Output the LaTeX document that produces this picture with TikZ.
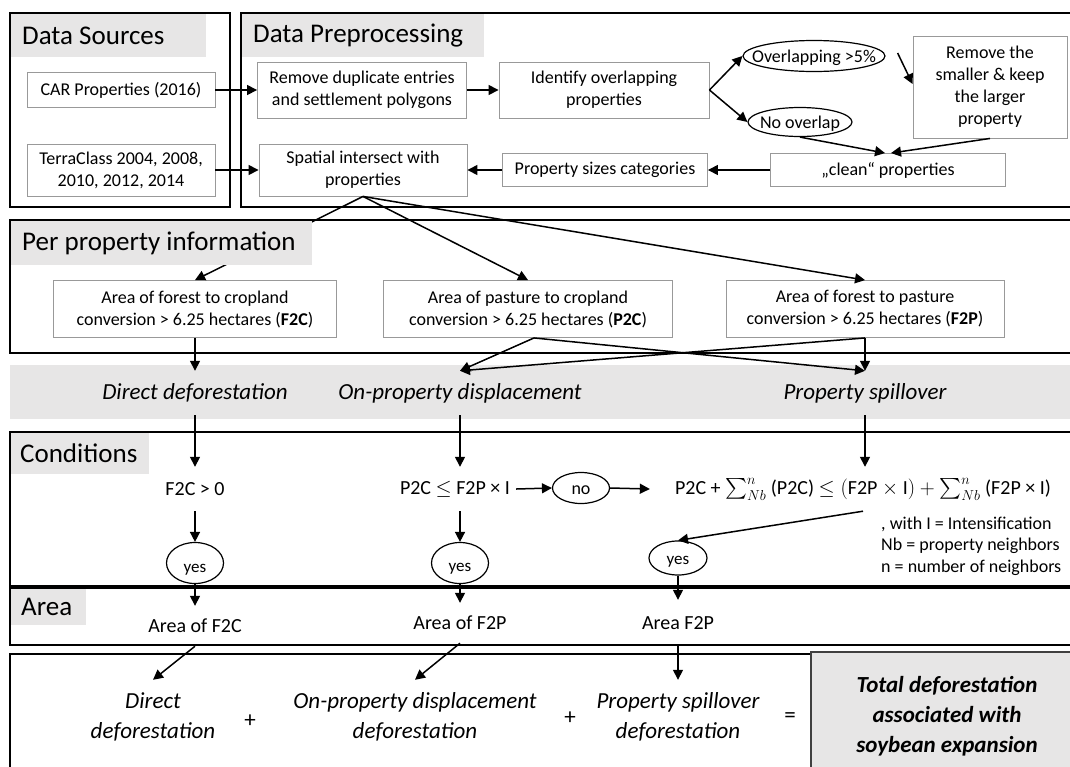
\documentclass[tikz,border=0pt]{standalone}
\usepackage{amsmath}
\usepackage{fontspec}
\setmainfont{Carlito}
\usetikzlibrary{shapes.geometric,arrows.meta}
\definecolor{hdrgray}{RGB}{231,230,230}
\newcommand{\ovtxt}[2][-0.34em]{\makebox[0pt][c]{\raisebox{#1}[0pt][0pt]{#2}}}
\begin{document}
\begin{tikzpicture}[x=1pt,y=-1pt,
  frame/.style={draw=black, line width=1.6pt},
  box/.style={draw=black!40, line width=0.9pt, fill=white, align=center, inner sep=0pt, font=\fontsize{18}{22}\selectfont},
  oval/.style={ellipse, draw=black, line width=1.2pt, fill=white, inner sep=0pt, font=\fontsize{18}{22}\selectfont},
  arr/.style={line width=1.5pt, -{Triangle[length=10pt,width=10pt]}},
  ttl/.style={anchor=west, font=\fontsize{27}{30}\selectfont, inner sep=0pt},
  lbl/.style={font=\fontsize{23}{30}\selectfont\itshape, align=center, inner sep=0pt},
  cond/.style={font=\fontsize{20}{24}\selectfont, inner sep=0pt},
  plain/.style={font=\fontsize{23}{30}\selectfont, inner sep=0pt}]
\useasboundingbox (0,0) rectangle (1070,766);
\clip (0,0) rectangle (1070,766);
\fill[white] (0,0) rectangle (1070,766);

% gray band
\fill[hdrgray] (10,365) rectangle (1080,419);

% frames
\draw[frame] (10,13) rectangle (230,207);
\draw[frame] (241,13) rectangle (1080,207);
\draw[frame] (10,220) rectangle (1080,353);
\draw[frame] (10,432) rectangle (1080,586);
\draw[frame] (10,588) rectangle (1080,645);
\draw[frame] (10,654) rectangle (1080,790);
\path[draw=black!75, line width=1.6pt, fill=hdrgray] (811,652) rectangle (1080,790);

% data sources / preprocessing
\node[box, minimum width=188, minimum height=35] (car) at (121,90) {CAR Properties (2016)};
\node[box, minimum width=188, minimum height=52] (tc) at (121,170) {TerraClass 2004, 2008,\\2010, 2012, 2014};
\node[box, minimum width=209, minimum height=56] (rd) at (362,90) {Remove duplicate entries\\and settlement polygons};
\node[box, minimum width=208, minimum height=52] (si) at (363,170) {Spatial intersect with\\properties};
\node[box, minimum width=210, minimum height=56] (io) at (604,90) {Identify overlapping\\properties};
\node[oval, minimum width=142, minimum height=31] (ov) at (814,56) {\ovtxt{Overlapping >5\%}};
\node[oval, minimum width=104, minimum height=29] (no) at (800,122) {\ovtxt{No overlap}};
\node[box, minimum width=154, minimum height=102] (rs) at (990,87) {Remove the\\smaller \& keep\\the larger\\property};
\node[box, minimum width=235, minimum height=33] (cl) at (888,170) {„clean“ properties};
\node[box, minimum width=205, minimum height=33] (ps) at (605,170) {Property sizes categories};

% per property
\node[box, minimum width=283, minimum height=57] (f2c) at (195,309) {Area of forest to cropland\\conversion > 6.25 hectares (\textbf{F2C})};
\node[box, minimum width=289, minimum height=57] (p2c) at (528,309) {Area of pasture to cropland\\conversion > 6.25 hectares (\textbf{P2C})};
\node[box, minimum width=278, minimum height=57] (f2p) at (865,309) {Area of forest to pasture\\conversion > 6.25 hectares (\textbf{F2P})};

% band labels
\node[lbl, minimum height=44] (dd) at (195,393) {Direct deforestation};
\node[lbl, minimum height=44] (op) at (460,393) {On-property displacement};
\node[lbl, minimum height=44] (sp) at (865,393) {Property spillover};

% conditions
\node[cond, minimum height=44] (c1) at (195,489) {F2C > 0};
\node[cond, minimum height=44, inner xsep=6pt] (c2) at (455,489) {P2C $\leq$ F2P × I};
\node[oval, minimum width=57, minimum height=31] (nn) at (581,488) {\ovtxt{no}};
\node[cond, minimum height=44, inner xsep=25pt] (fo) at (863,489) {P2C + $\sum_{Nb}^{n}$ (P2C) $\leq (\text{F2P} \times \text{I}) + \sum_{Nb}^{n}$ (F2P × I)};
\node[oval, minimum width=57, minimum height=41, font=\fontsize{17}{20}\selectfont] (y1) at (195,563) {\ovtxt[-0.55em]{yes}};
\node[oval, minimum width=57, minimum height=41, font=\fontsize{17}{20}\selectfont] (y2) at (460,563) {\ovtxt[-0.5em]{yes}};
\node[oval, minimum width=58, minimum height=34, font=\fontsize{17}{20}\selectfont] (y3) at (678,558) {\ovtxt[-0.4em]{yes}};
\node[anchor=west, align=left, font=\fontsize{18}{21.5}\selectfont, inner sep=0pt] (nt) at (881,546) {, with I = Intensification\\Nb = property neighbors\\n = number of neighbors};

% area
\node[cond, minimum height=40] (a1) at (195,626) {Area of F2C};
\node[cond, minimum height=40] (a2) at (460,623) {Area of F2P};
\node[cond, minimum height=46] (a3) at (678,623) {Area F2P};

% bottom
\node[lbl, minimum height=74] (b1) at (153,717) {Direct\\deforestation};
\node[lbl, minimum height=74] (b2) at (415,717) {On-property displacement\\deforestation};
\node[lbl, minimum height=74] (b3) at (678,717) {Property spillover\\deforestation};
\node[plain] (pl1) at (250,721) {+};
\node[plain] (pl2) at (570,718) {+};
\node[plain] (eq) at (790,718) {=};
\node[lbl, font=\fontsize{23}{30}\selectfont\bfseries\itshape] (tot) at (947,716) {Total deforestation\\associated with\\soybean expansion};

% arrows
\draw[arr] (car) -- (rd);
\draw[arr] (tc) -- (si);
\draw[arr] (rd) -- (io);
\draw[arr] (io.east) -- (ov.west);
\draw[arr] (io.east) -- (no.west);
\draw[arr] ([xshift=12pt,yshift=3pt]ov.east) -- ([yshift=3pt]rs.west);
\draw[arr] (no.south) -- ([xshift=-3pt]cl.north);
\draw[arr] (rs.south) -- ([xshift=3pt]cl.north);
\draw[arr] (cl) -- (ps);
\draw[arr] (ps) -- (si);
\draw[arr] (si.south) -- (f2c.north);
\draw[arr] (si.south) -- (p2c.north);
\draw[arr] (si.south) -- (f2p.north);
\draw[arr] (f2c.south) -- (dd.north);
\draw[arr] ([xshift=6pt]p2c.south) -- (op.north);
\draw[arr] ([xshift=6pt]p2c.south) -- (sp.north);
\draw[arr] (f2p.south) -- (op.north);
\draw[arr] (f2p.south) -- (sp.north);
\draw[arr] (dd.south) -- (c1.north);
\draw[arr] (c1.south) -- (y1.north);
\draw[arr] (op.south) -- (op.south |- c2.north);
\draw[arr] (y2.north |- c2.south) -- (y2.north);
\draw[arr] (c2.east) -- (nn.west);
\draw[arr] (nn.east) -- (fo.west);
\draw[arr] (sp.south) -- (sp.south |- fo.north);
\draw[arr] (fo.south) -- (y3.north);
\draw[arr] (y1.south) -- (a1.north);
\draw[arr] (y2.south) -- (a2.north);
\draw[arr] (y3.south) -- (a3.north);
\draw[arr] (a1.south) -- (b1.north);
\draw[arr] (a2.south) -- (b2.north);
\draw[arr] (a3.south) -- (b3.north);

% headers
\fill[hdrgray] (11,14) rectangle (206,57);
\fill[hdrgray] (242,14) rectangle (484,57);
\fill[hdrgray] (11,221) rectangle (312,265);
\fill[hdrgray] (11,433) rectangle (149,474);
\fill[hdrgray] (11,589) rectangle (86,625);
\node[ttl] (hds) at (22,36) {Data Sources};
\node[ttl] (hdp) at (253,36) {Data Preprocessing};
\node[ttl] (hpp) at (22,243) {Per property information};
\node[ttl] (hco) at (20,453) {Conditions};
\node[ttl] (har) at (21,607) {Area};
\end{tikzpicture}
\end{document}
